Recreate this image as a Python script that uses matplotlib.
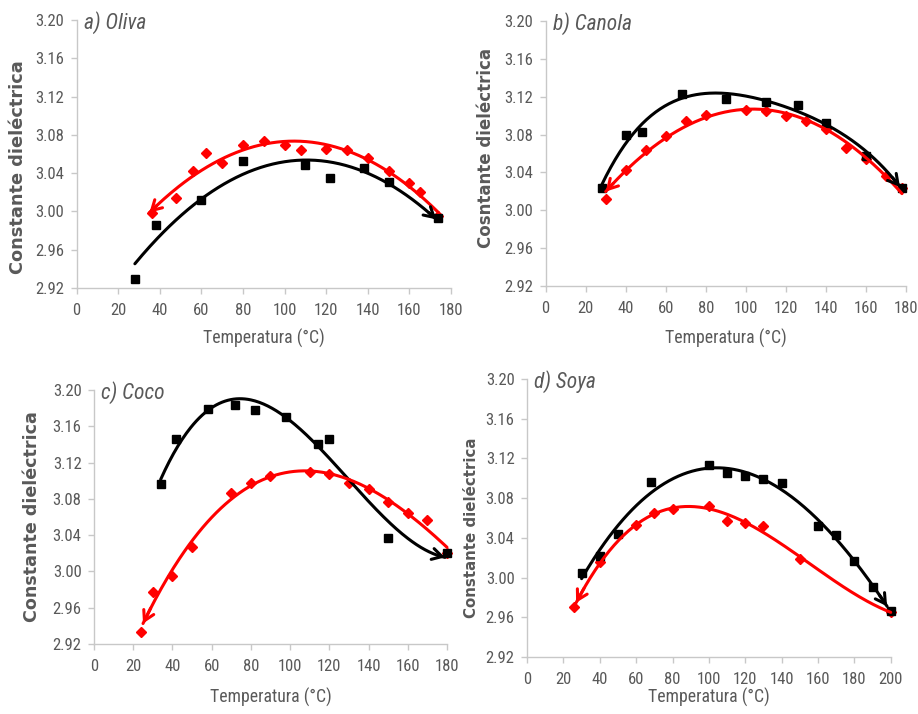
import numpy as np
import matplotlib
matplotlib.use("Agg")
import matplotlib.pyplot as plt
from matplotlib import font_manager as fm
from matplotlib.ticker import MultipleLocator, FormatStrFormatter

# ---------------- data ----------------
oliva_x_black = [28, 38, 60, 80, 110, 122, 138, 150, 174]
oliva_y_black = [2.929, 2.986, 3.012, 3.053, 3.049, 3.035, 3.045, 3.031, 2.993]
oliva_x_red = [36, 48, 56, 62, 70, 80, 90, 100, 108, 120, 130, 140, 150, 160, 165, 174]
oliva_y_red = [2.998, 3.014, 3.042, 3.061, 3.051, 3.069, 3.074, 3.069, 3.064, 3.065,
               3.064, 3.056, 3.042, 3.030, 3.020, 2.995]

canola_x_black = [28, 40, 48, 68, 90, 110, 126, 140, 160, 178]
canola_y_black = [3.024, 3.080, 3.083, 3.123, 3.118, 3.114, 3.111, 3.092, 3.057, 3.024]
canola_x_red = [30, 40, 50, 60, 70, 80, 100, 110, 120, 130, 140, 150, 160, 170, 178]
canola_y_red = [3.012, 3.043, 3.064, 3.079, 3.094, 3.101, 3.106, 3.105, 3.100, 3.094,
                3.086, 3.066, 3.054, 3.036, 3.024]

coco_x_black = [34, 42, 58, 72, 82, 98, 114, 120, 150, 180]
coco_y_black = [3.096, 3.146, 3.179, 3.183, 3.178, 3.170, 3.141, 3.146, 3.037, 3.020]
coco_x_red = [24, 30, 40, 50, 70, 80, 90, 110, 120, 130, 140, 150, 160, 170, 180]
coco_y_red = [2.933, 2.977, 2.995, 3.027, 3.086, 3.097, 3.105, 3.110, 3.107, 3.098,
              3.091, 3.077, 3.064, 3.057, 3.020]

soya_x_black = [30, 40, 50, 68, 100, 110, 120, 130, 140, 160, 170, 180, 190, 200]
soya_y_black = [3.005, 3.022, 3.044, 3.096, 3.113, 3.105, 3.102, 3.099, 3.095, 3.052,
                3.043, 3.017, 2.991, 2.966]
soya_x_red = [26, 40, 60, 70, 80, 100, 110, 120, 130, 150, 200]
soya_y_red = [2.970, 3.016, 3.053, 3.065, 3.069, 3.072, 3.057, 3.055, 3.052, 3.019, 2.965]

titles = ["a) Oliva", "b) Canola", "c) Coco", "d) Soya"]
ylabels = ["Constante dieléctrica", "Cosntante dieléctrica",
           "Constante dieléctrica", "Constante dieléctrica"]
xlabel = "Temperatura (°C)"

# ---------------- fonts ----------------
avail = {f.name for f in fm.fontManager.ttflist}
narrow = None
for cand in ["Liberation Sans Narrow", "Arial Narrow", "Roboto Condensed",
             "Open Sans Condensed", "DejaVu Sans Condensed"]:
    if cand in avail:
        narrow = cand
        break
if narrow is None:
    narrow = "Roboto" if "Roboto" in avail else "DejaVu Sans"
NARROW = [narrow, "DejaVu Sans"]
BOLDSANS = ["DejaVu Sans"]

GRAY = "#595959"
SPINE = "#c8c8c8"

fig = plt.figure(figsize=(9.18, 7.14), dpi=100)

panels = [
    dict(rect=[0.0835, 0.5966, 0.4077, 0.3754], xmax=180,
         black=(oliva_x_black, oliva_y_black, 2, (28, 173)),
         red=(oliva_x_red, oliva_y_red, 2, (35, 174)),
         ylab_x=18, ylab_y=167, ylab_size=12.8, xlab_y=338),
    dict(rect=[0.5944, 0.5994, 0.3925, 0.3711], xmax=180,
         black=(canola_x_black, canola_y_black, 4, (28, 177)),
         red=(canola_x_red, canola_y_red, 2, (30, 178)),
         ylab_x=486, ylab_y=148, ylab_size=12.0, xlab_y=338),
    dict(rect=[0.1024, 0.0980, 0.3845, 0.3557], xmax=180,
         black=(coco_x_black, coco_y_black, 3, (34, 179)),
         red=(coco_x_red, coco_y_red, 3, (25, 180)),
         ylab_x=32, ylab_y=517, ylab_size=12.6, xlab_y=697),
    dict(rect=[0.5741, 0.0798, 0.3962, 0.3894], xmax=200,
         black=(soya_x_black, soya_y_black, 3, (30, 198)),
         red=(soya_x_red, soya_y_red, 3, (27, 200)),
         ylab_x=472, ylab_y=528, ylab_size=10.8, xlab_y=697),
]

W, H = 918, 714

for i, p in enumerate(panels):
    ax = fig.add_axes(p["rect"])
    ax.set_xlim(0, p["xmax"])
    ax.set_ylim(2.92, 3.20)
    ax.xaxis.set_major_locator(MultipleLocator(20))
    ax.yaxis.set_major_locator(MultipleLocator(0.04))
    ax.yaxis.set_major_formatter(FormatStrFormatter("%.2f"))
    for s in ["top", "right"]:
        ax.spines[s].set_visible(False)
    for s in ["left", "bottom"]:
        ax.spines[s].set_color(SPINE)
        ax.spines[s].set_linewidth(1.0)
    ax.tick_params(axis="both", colors=SPINE, length=4, width=1.0, labelcolor=GRAY,
                   labelsize=12)
    ax.tick_params(axis="x", pad=7)
    ax.tick_params(axis="y", pad=5)
    for lab in ax.get_xticklabels() + ax.get_yticklabels():
        lab.set_family(NARROW)

    bx, by, bdeg, brng = p["black"]
    rx, ry, rdeg, rrng = p["red"]
    ax.plot(rx, ry, linestyle="none", marker="D", markersize=5.5, color="#ff0000",
            zorder=3, clip_on=False)
    ax.plot(bx, by, linestyle="none", marker="s", markersize=6, color="#000000",
            zorder=3, clip_on=False)

    for (xs, ys, deg, rng), col, arrow_at_end in [((bx, by, bdeg, brng), "black", True),
                                                  ((rx, ry, rdeg, rrng), "#ff0000", False)]:
        coef = np.polyfit(xs, ys, deg)
        xx = np.linspace(rng[0], rng[1], 200)
        yy = np.polyval(coef, xx)
        ax.plot(xx, yy, color=col, lw=2.2, zorder=4, solid_capstyle="round",
                clip_on=False)
        if arrow_at_end:
            tip, tail = (xx[-1], yy[-1]), (xx[-6], yy[-6])
        else:
            tip, tail = (xx[0], yy[0]), (xx[5], yy[5])
        ax.annotate("", xy=tip, xytext=tail,
                    arrowprops=dict(arrowstyle="->,head_length=0.7,head_width=0.4",
                                    color=col, lw=2.2, shrinkA=0, shrinkB=0),
                    zorder=5, annotation_clip=False)

    ax.text(0.02, 0.99, titles[i], transform=ax.transAxes, ha="left", va="center",
            fontsize=15.5, style="italic", color=GRAY, family=NARROW)

    bbox = ax.get_position()
    fig.text(p["ylab_x"] / W, 1 - p["ylab_y"] / H, ylabels[i], rotation=90,
             ha="center", va="center", fontsize=p["ylab_size"], fontweight="bold",
             color=GRAY, family=BOLDSANS)
    xcen = (bbox.x0 + bbox.x1) / 2
    fig.text(xcen, 1 - p["xlab_y"] / H, xlabel, ha="center", va="center",
             fontsize=12.8, color=GRAY, family=NARROW)

fig.savefig("out.png", dpi=100)
